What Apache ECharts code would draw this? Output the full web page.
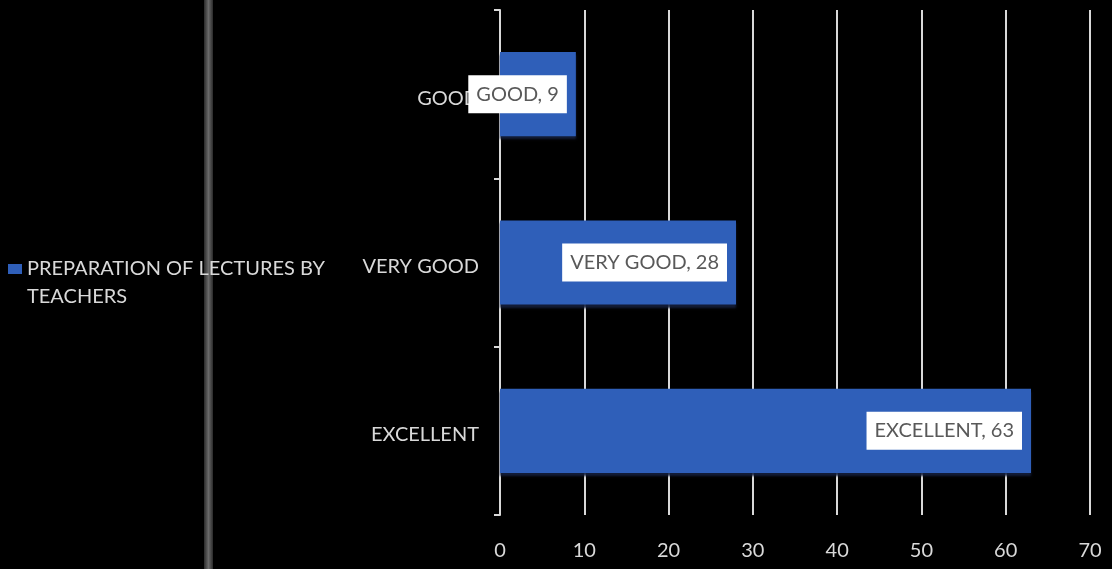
<!DOCTYPE html>
<html>
<head>
<meta charset="utf-8">
<script src="https://cdn.jsdelivr.net/npm/echarts@6/dist/echarts.min.js"></script>
<style>
html,body{margin:0;padding:0;background:#000;}
#chart{width:1112px;height:569px;}
</style>
</head>
<body>
<div id="chart"></div>
<script>
const categories = ['EXCELLENT', 'VERY GOOD', 'GOOD'];
const values = [63, 28, 9];
const seriesName = 'PREPARATION OF LECTURES BY TEACHERS';
const xTicks = [0, 10, 20, 30, 40, 50, 60, 70];

const chart = echarts.init(document.getElementById('chart'));
const FONT = 'Lato';
chart.setOption({
  backgroundColor: '#000000',
  animation: false,
  graphic: [{
    type: 'rect',
    shape: { x: 204, y: 0, width: 9, height: 569 },
    style: {
      fill: new echarts.graphic.LinearGradient(0, 0, 1, 0, [
        { offset: 0, color: '#2a2a2a' },
        { offset: 0.5, color: '#6a6a6a' },
        { offset: 1, color: '#2a2a2a' }
      ])
    },
    z: 0
  }],
  legend: {
    left: 3,
    top: 250,
    itemWidth: 14,
    itemHeight: 38,
    itemGap: 6,
    icon: 'path://M0,0L14,0L14,10L0,10Z M0,38L0.01,38L0,38Z',
    formatter: () => 'PREPARATION OF LECTURES BY\nTEACHERS',
    textStyle: { color: '#d9d9d9', fontSize: 20, fontFamily: FONT, lineHeight: 28 }
  },
  grid: { left: 500, right: 22, top: 10, bottom: 54 },
  xAxis: {
    type: 'value',
    min: xTicks[0],
    max: xTicks[xTicks.length - 1],
    interval: 10,
    axisLine: { show: false },
    axisTick: { show: false },
    axisLabel: { color: '#d9d9d9', fontSize: 20, fontFamily: FONT, margin: 26 },
    splitLine: { show: true, lineStyle: { color: '#d9d9d9', width: 2 } }
  },
  yAxis: {
    type: 'category',
    data: categories,
    axisLine: { show: true, lineStyle: { color: '#d9d9d9', width: 2 } },
    axisTick: { show: true, length: 6, lineStyle: { color: '#d9d9d9', width: 2 } },
    axisLabel: {
      color: '#d9d9d9', fontSize: 20, fontFamily: FONT, margin: 21,
      formatter: v => '{a|' + v + '}',
      rich: { a: { color: '#d9d9d9', fontSize: 20, fontFamily: FONT, padding: [8, 0, 0, 0] } }
    }
  },
  series: [{
    name: seriesName,
    type: 'bar',
    data: values,
    barWidth: '50%',
    itemStyle: {
      color: '#2f5fb9',
      shadowColor: 'rgba(20,30,60,0.9)',
      shadowOffsetY: 3,
      shadowBlur: 2
    },
    label: {
      show: true,
      position: 'insideRight',
      distance: 9,
      formatter: p => p.name + ', ' + p.value,
      color: '#595959',
      fontSize: 20,
      fontFamily: FONT,
      backgroundColor: '#ffffff',
      padding: [9, 8]
    },
    z: 3
  }]
});
</script>
</body>
</html>
